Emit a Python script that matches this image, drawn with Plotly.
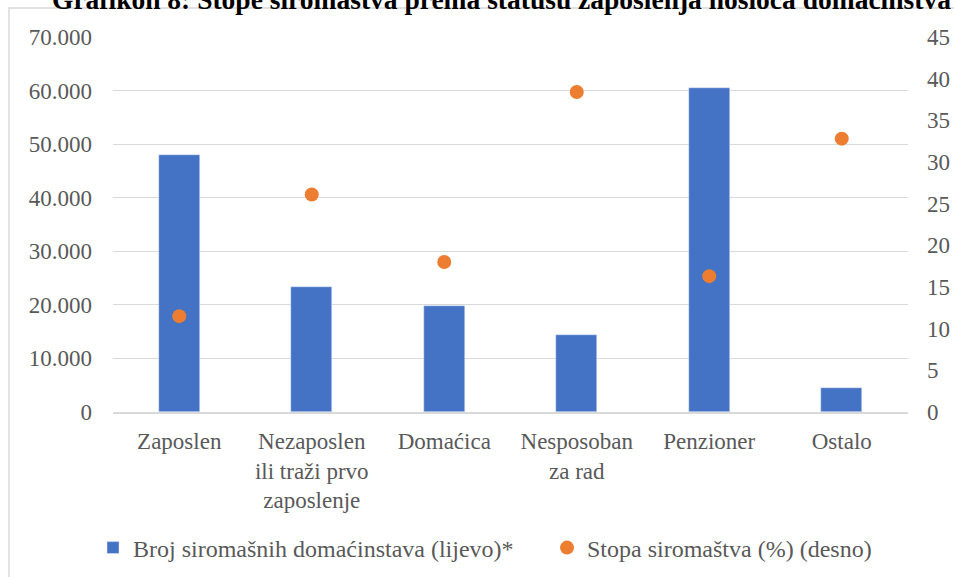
import plotly.graph_objects as go

categories = ["Zaposlen", "Nezaposlen<br>ili traži prvo<br>zaposlenje", "Domaćica",
              "Nesposoban<br>za rad", "Penzioner", "Ostalo"]
households = [48000, 23300, 19800, 14300, 60400, 4500]
poverty_rate = [11.5, 26.1, 18.0, 38.4, 16.3, 32.8]

FONT = "Liberation Serif, Times New Roman, serif"
GRAY = "#595959"
GRID = "#d9d9d9"

fig = go.Figure()
fig.add_trace(go.Bar(
    x=categories, y=households,
    name="Broj siromašnih domaćinstava (lijevo)*",
    marker=dict(color="#4472C4"),
    width=0.313,
    legend="legend",
))
fig.add_trace(go.Scatter(
    x=categories, y=poverty_rate, yaxis="y2",
    mode="markers",
    name="Stopa siromaštva (%) (desno)",
    marker=dict(color="#ED7D31", size=14),
    legend="legend2",
))

# frame around chart area (left/top edges visible)
fig.add_shape(type="rect", xref="paper", yref="paper",
              x0=-0.1308, x1=1.07, y0=-0.47, y1=1.0773,
              line=dict(color=GRID, width=1.5), layer="below")

fig.add_annotation(
    text="<b>Grafikon 8: Stope siromaštva prema statusu zaposlenja nosioca domaćinstva</b>",
    xref="paper", yref="paper", x=0.489, y=1.099,
    xanchor="center", yanchor="middle", showarrow=False,
    font=dict(family=FONT, size=27.5, color="black"),
)

legend_style = dict(orientation="h", xref="container", yref="container",
                    xanchor="left", y=0.0503, yanchor="middle",
                    bgcolor="rgba(0,0,0,0)", itemwidth=30,
                    font=dict(size=24, color=GRAY))

fig.update_layout(
    width=954, height=577,
    paper_bgcolor="white", plot_bgcolor="white",
    margin=dict(l=113, r=46, t=37, b=165),
    font=dict(family=FONT, size=23, color=GRAY),
    separators=",.",
    bargap=0,
    showlegend=True,
    legend=dict(legend_style, x=0.0975),
    legend2=dict(legend_style, x=0.5734),
    xaxis=dict(showgrid=False, showline=True, linecolor=GRID, linewidth=2, automargin=False,
               ticks="", ticklabelstandoff=7, tickfont=dict(size=23, color=GRAY)),
    yaxis=dict(range=[0, 70000], dtick=10000, tickformat=",d", automargin=False,
               showgrid=True, gridcolor=GRID, gridwidth=1.3, zeroline=False,
               ticks="", ticklabelstandoff=20, tickfont=dict(size=23, color=GRAY)),
    yaxis2=dict(range=[0, 45], dtick=5, overlaying="y", side="right", automargin=False,
                showgrid=False, zeroline=False, ticks="", ticklabelstandoff=18,
                tickfont=dict(size=23, color=GRAY)),
)

fig.write_html("out.html", config={"displayModeBar": False},
               post_script="document.body.style.margin='0';")
